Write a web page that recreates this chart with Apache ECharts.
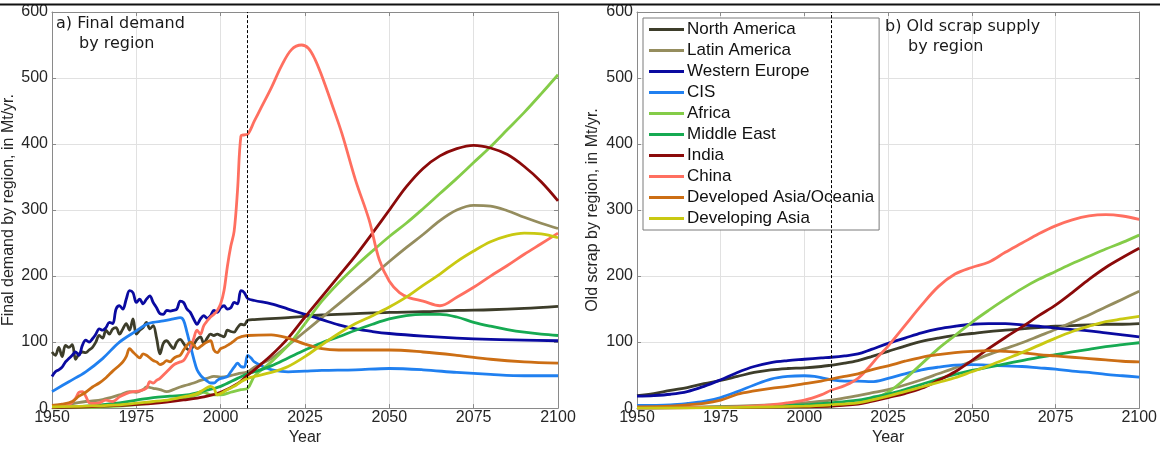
<!DOCTYPE html>
<html>
<head>
<meta charset="utf-8">
<script src="https://cdn.jsdelivr.net/npm/echarts@6/dist/echarts.min.js"></script>
<style>
html,body{margin:0;padding:0;background:#fff;}
#chart{width:1160px;height:451px;}
</style>
</head>
<body>
<div id="chart"></div>
<script>
// ---------- Data ----------
const regionNames = ['North America','Latin America','Western Europe','CIS','Africa','Middle East','India','China','Developed Asia/Oceania','Developing Asia'];
const regionColors = ['#3d3d2a','#958d5e','#0a0aa0','#2080f0','#84cc48','#16aa52','#8b0a0a','#ff6f60','#cc6e14','#c9c912'];
const xTicks = [1950,1975,2000,2025,2050,2075,2100];
const yTicks = [0,100,200,300,400,500,600];
const markerYear = 2008;

// a) Final demand by region, Mt/yr  ([year, value])
const demandNorthAmerica = [[1950,85],[1951,80],[1952,92],[1953,78],[1954,95],[1955,92],[1956,96],[1957,74],[1958,82],[1959,85],[1960,84],[1961,88],[1962,92],[1963,100],[1964,110],[1965,106],[1966,118],[1967,112],[1968,120],[1969,122],[1970,112],[1971,120],[1972,128],[1973,118],[1974,135],[1975,112],[1976,118],[1977,122],[1978,130],[1979,120],[1980,125],[1981,106],[1982,82],[1983,98],[1984,102],[1985,96],[1986,90],[1987,100],[1988,104],[1989,98],[1990,90],[1991,88],[1992,96],[1993,104],[1994,108],[1995,98],[1996,106],[1997,112],[1998,110],[1999,112],[2000,110],[2001,108],[2002,118],[2003,116],[2004,115],[2005,122],[2006,127],[2007,126],[2008,133],[2010,134],[2020,137],[2030,141],[2040,143],[2050,145],[2060,146],[2070,148],[2080,149],[2090,151],[2100,154]];
const demandLatinAmerica = [[1950,4],[1955,6],[1960,10],[1965,13],[1970,20],[1973,25],[1975,24],[1977,28],[1978,32],[1980,30],[1982,28],[1984,25],[1986,28],[1988,32],[1990,35],[1992,38],[1994,42],[1996,45],[1998,48],[2000,47],[2002,48],[2005,52],[2008,55],[2010,62],[2015,75],[2020,95],[2025,116],[2030,137],[2035,158],[2040,179],[2045,200],[2050,222],[2055,243],[2060,263],[2065,284],[2070,300],[2075,307],[2080,306],[2085,299],[2090,289],[2095,280],[2100,272]];
const demandWesternEurope = [[1950,48],[1951,55],[1952,58],[1953,62],[1954,70],[1955,75],[1956,80],[1957,85],[1958,80],[1959,95],[1960,103],[1961,100],[1962,105],[1963,112],[1964,120],[1965,118],[1966,122],[1967,130],[1968,128],[1969,150],[1970,155],[1971,150],[1972,165],[1973,178],[1974,175],[1975,160],[1976,165],[1977,158],[1978,165],[1979,170],[1980,160],[1981,152],[1982,143],[1983,142],[1984,148],[1985,147],[1986,148],[1987,150],[1988,162],[1989,160],[1990,150],[1991,145],[1992,135],[1993,127],[1994,135],[1995,140],[1996,136],[1997,140],[1998,148],[1999,145],[2000,152],[2001,155],[2002,150],[2003,152],[2004,160],[2005,158],[2006,178],[2007,175],[2008,166],[2010,163],[2015,158],[2020,150],[2025,142],[2030,134],[2035,126],[2040,120],[2045,116],[2050,113],[2060,109],[2070,106],[2080,104],[2090,103],[2100,102]];
const demandCIS = [[1950,25],[1955,40],[1960,55],[1965,75],[1970,100],[1975,117],[1978,127],[1980,130],[1983,132],[1986,135],[1988,137],[1989,133],[1990,115],[1991,95],[1992,75],[1993,58],[1994,50],[1995,45],[1996,41],[1997,38],[1998,38],[1999,42],[2000,45],[2001,46],[2002,48],[2003,55],[2004,62],[2005,68],[2006,63],[2007,62],[2008,80],[2009,76],[2010,70],[2013,62],[2016,57],[2020,55],[2025,56],[2030,57],[2040,58],[2050,60],[2060,58],[2070,54],[2080,51],[2090,49],[2100,49]];
const demandAfrica = [[1950,0],[1960,1],[1970,3],[1980,8],[1985,12],[1990,16],[1993,20],[1995,24],[1997,20],[2000,20],[2003,24],[2006,28],[2008,30],[2010,48],[2015,70],[2020,95],[2025,128],[2030,162],[2035,190],[2040,215],[2045,238],[2050,260],[2055,280],[2060,302],[2065,325],[2070,348],[2075,372],[2080,396],[2085,422],[2090,448],[2095,476],[2100,505]];
const demandMiddleEast = [[1950,1],[1960,3],[1970,8],[1975,12],[1980,16],[1985,18],[1990,20],[1995,26],[2000,33],[2005,45],[2008,52],[2010,55],[2015,64],[2020,76],[2025,88],[2030,99],[2035,108],[2040,118],[2045,127],[2050,135],[2055,140],[2060,142],[2065,142],[2070,138],[2075,130],[2080,124],[2085,119],[2090,115],[2095,112],[2100,110]];
const demandIndia = [[1950,1],[1960,2],[1970,4],[1980,7],[1990,13],[1995,17],[2000,24],[2005,37],[2008,50],[2010,58],[2015,80],[2020,106],[2025,138],[2030,169],[2035,200],[2040,231],[2045,265],[2050,300],[2055,335],[2060,363],[2065,382],[2070,393],[2075,398],[2080,394],[2085,384],[2090,366],[2095,343],[2100,314]];
const demandChina = [[1950,2],[1953,3],[1955,5],[1957,15],[1958,24],[1959,25],[1960,18],[1961,8],[1962,7],[1964,8],[1966,12],[1968,10],[1970,17],[1972,22],[1974,25],[1976,26],[1978,30],[1979,40],[1980,38],[1981,42],[1982,45],[1984,55],[1986,65],[1987,68],[1988,70],[1989,72],[1990,80],[1991,90],[1992,105],[1993,118],[1994,112],[1995,125],[1996,132],[1997,138],[1998,142],[1999,148],[2000,158],[2001,178],[2002,215],[2003,245],[2004,268],[2005,330],[2006,412],[2007,414],[2008,415],[2010,435],[2012,455],[2015,485],[2018,518],[2021,543],[2024,550],[2026,545],[2028,528],[2030,503],[2033,460],[2036,415],[2040,345],[2044,285],[2047,225],[2050,192],[2053,175],[2056,167],[2060,162],[2065,155],[2070,168],[2075,183],[2080,200],[2085,216],[2090,233],[2095,249],[2100,265]];
const demandDevelopedAsia = [[1950,4],[1953,6],[1956,10],[1958,18],[1960,24],[1962,32],[1964,38],[1966,46],[1968,56],[1970,65],[1971,70],[1972,78],[1973,90],[1974,85],[1975,80],[1976,76],[1977,82],[1978,80],[1979,76],[1980,72],[1981,70],[1982,66],[1983,68],[1984,72],[1985,70],[1986,75],[1987,78],[1988,80],[1989,88],[1990,95],[1991,100],[1992,96],[1993,90],[1994,93],[1995,97],[1996,100],[1997,102],[1998,88],[1999,84],[2000,90],[2001,92],[2002,95],[2003,98],[2004,102],[2005,106],[2006,108],[2008,110],[2015,111],[2020,106],[2025,97],[2030,90],[2035,88],[2040,88],[2050,88],[2060,85],[2070,80],[2080,74],[2090,70],[2100,68]];
const demandDevelopingAsia = [[1950,2],[1960,3],[1970,5],[1980,10],[1985,13],[1990,18],[1993,22],[1995,28],[1997,33],[1998,30],[1999,20],[2000,22],[2002,28],[2004,33],[2006,40],[2008,45],[2010,48],[2015,54],[2020,63],[2025,78],[2030,96],[2035,113],[2040,128],[2045,140],[2050,153],[2055,168],[2060,186],[2065,203],[2070,222],[2075,238],[2080,252],[2085,261],[2090,265],[2095,264],[2100,258]];

// b) Old scrap supply by region, Mt/yr  ([year, value])
const scrapNorthAmerica = [[1950,19],[1955,22],[1960,27],[1965,31],[1970,37],[1975,42],[1980,48],[1985,54],[1990,58],[1995,60],[2000,61],[2005,63],[2008,65],[2012,68],[2016,72],[2020,78],[2025,86],[2030,94],[2035,101],[2040,106],[2045,110],[2050,113],[2055,116],[2060,118],[2065,120],[2070,122],[2075,124],[2080,125],[2085,126],[2090,127],[2095,127],[2100,128]];
const scrapLatinAmerica = [[1950,1],[1970,2],[1990,5],[2000,8],[2008,12],[2016,19],[2020,23],[2025,28],[2030,35],[2035,43],[2040,52],[2045,61],[2050,71],[2055,81],[2060,90],[2065,99],[2070,109],[2075,119],[2080,130],[2085,141],[2090,153],[2095,165],[2100,177]];
const scrapWesternEurope = [[1950,18],[1955,19],[1960,21],[1965,25],[1970,33],[1975,43],[1980,54],[1985,63],[1990,69],[1995,72],[2000,74],[2005,76],[2008,77],[2012,79],[2016,82],[2020,89],[2025,98],[2030,106],[2035,114],[2040,120],[2045,124],[2050,127],[2055,128],[2060,128],[2065,126],[2070,124],[2075,121],[2080,119],[2085,117],[2090,114],[2095,111],[2100,108]];
const scrapCIS = [[1950,4],[1960,5],[1965,7],[1970,10],[1975,16],[1980,25],[1985,35],[1990,44],[1995,48],[2000,49],[2003,48],[2006,45],[2008,43],[2012,41],[2016,41],[2020,40],[2025,45],[2030,52],[2035,58],[2040,62],[2045,65],[2050,66],[2055,65],[2060,64],[2065,63],[2070,61],[2075,59],[2080,56],[2085,54],[2090,51],[2095,49],[2100,47]];
const scrapAfrica = [[1950,0],[1980,1],[2000,2],[2008,3],[2015,7],[2020,13],[2025,24],[2030,44],[2035,67],[2040,90],[2045,110],[2050,130],[2055,148],[2060,165],[2065,181],[2070,195],[2075,207],[2080,219],[2085,230],[2090,241],[2095,251],[2100,262]];
const scrapMiddleEast = [[1950,0],[1980,2],[2000,5],[2008,8],[2016,12],[2020,16],[2025,21],[2030,28],[2035,36],[2040,44],[2045,51],[2050,57],[2055,62],[2060,67],[2065,72],[2070,77],[2075,81],[2080,85],[2085,89],[2090,93],[2095,96],[2100,99]];
const scrapIndia = [[1950,0],[1980,1],[2000,2],[2008,3],[2016,6],[2020,10],[2025,16],[2030,22],[2035,30],[2040,42],[2045,55],[2050,72],[2055,90],[2060,107],[2065,123],[2070,140],[2075,156],[2080,175],[2085,195],[2090,213],[2095,228],[2100,242]];
const scrapChina = [[1950,0],[1970,1],[1980,2],[1990,5],[1995,8],[2000,12],[2005,20],[2008,27],[2012,34],[2016,45],[2020,66],[2022,78],[2025,94],[2030,125],[2035,156],[2040,184],[2045,203],[2050,213],[2055,221],[2060,236],[2065,250],[2070,264],[2075,276],[2080,285],[2085,291],[2090,293],[2095,291],[2100,286]];
const scrapDevelopedAsia = [[1950,2],[1960,3],[1965,5],[1970,7],[1975,12],[1980,21],[1985,26],[1990,30],[1995,33],[2000,37],[2005,41],[2008,44],[2012,48],[2016,52],[2020,58],[2025,64],[2030,71],[2035,77],[2040,81],[2045,84],[2050,86],[2055,87],[2060,86],[2065,84],[2070,81],[2075,79],[2080,77],[2085,75],[2090,73],[2095,71],[2100,70]];
const scrapDevelopingAsia = [[1950,0],[1980,1],[2000,3],[2008,5],[2016,8],[2020,12],[2025,18],[2030,25],[2035,32],[2040,39],[2045,46],[2050,55],[2055,64],[2060,74],[2065,84],[2070,95],[2075,106],[2080,116],[2085,124],[2090,131],[2095,135],[2100,139]];

const demandSeries = [demandNorthAmerica,demandLatinAmerica,demandWesternEurope,demandCIS,demandAfrica,demandMiddleEast,demandIndia,demandChina,demandDevelopedAsia,demandDevelopingAsia];
const scrapSeries = [scrapNorthAmerica,scrapLatinAmerica,scrapWesternEurope,scrapCIS,scrapAfrica,scrapMiddleEast,scrapIndia,scrapChina,scrapDevelopedAsia,scrapDevelopingAsia];

// ---------- Chart ----------
const chart = echarts.init(document.getElementById('chart'), null, {renderer:'canvas'});
const FONT = "'Liberation Sans', Arial, sans-serif";
const TXT = '#262626';
const AXC = '#8a8a8a';
const GRIDC = '#e1e1e1';

function mainX(gi, name){
  return {type:'value', gridIndex:gi, min:1950, max:2100, interval:25,
    name:name, nameLocation:'middle', nameGap:20,
    nameTextStyle:{fontFamily:FONT, fontSize:16, color:TXT},
    axisLine:{show:true, onZero:false, lineStyle:{color:AXC, width:1}},
    axisTick:{show:true, inside:true, length:4, lineStyle:{color:AXC}},
    axisLabel:{fontFamily:FONT, fontSize:16, color:TXT, margin:1, formatter:(v)=>String(v)},
    splitLine:{show:true, lineStyle:{color:GRIDC, width:1}}};
}
function mainY(gi, name, gap){
  return {type:'value', gridIndex:gi, min:0, max:600, interval:100,
    name:name, nameLocation:'middle', nameGap:gap, nameRotate:90,
    nameTextStyle:{fontFamily:FONT, fontSize:16, color:TXT},
    axisLine:{show:true, onZero:false, lineStyle:{color:AXC, width:1}},
    axisTick:{show:true, inside:true, length:4, lineStyle:{color:AXC}},
    axisLabel:{fontFamily:FONT, fontSize:16, color:TXT, margin:4, formatter:(v)=>String(v)},
    splitLine:{show:true, lineStyle:{color:GRIDC, width:1}}};
}
function frameX(gi){
  return {type:'value', gridIndex:gi, position:'top', min:1950, max:2100, interval:25,
    axisLine:{show:true, onZero:false, lineStyle:{color:AXC, width:1}},
    axisTick:{show:true, inside:true, length:4, lineStyle:{color:AXC}},
    axisLabel:{show:false}, splitLine:{show:false}};
}
function frameY(gi){
  return {type:'value', gridIndex:gi, position:'right', min:0, max:600, interval:100,
    axisLine:{show:true, onZero:false, lineStyle:{color:AXC, width:1}},
    axisTick:{show:true, inside:true, length:4, lineStyle:{color:AXC}},
    axisLabel:{show:false}, splitLine:{show:false}};
}

const series = [];
function addPanel(list, axisIdx){
  list.forEach((data, i) => {
    const s = {name:regionNames[i], type:'line', xAxisIndex:axisIdx, yAxisIndex:axisIdx,
      data:data, showSymbol:false, symbol:'none', smooth:0.35,
      lineStyle:{color:regionColors[i], width:2.8}, itemStyle:{color:regionColors[i]},
      z:2, animation:false};
    if (i === 0) {
      s.markLine = {silent:true, symbol:['none','none'], animation:false,
        label:{show:false},
        lineStyle:{type:[3,2], color:'#000', width:1},
        data:[{xAxis:markerYear}]};
    }
    series.push(s);
  });
}
addPanel(demandSeries, 0);
addPanel(scrapSeries, 1);

const titleStyle = {fontFamily:"'DejaVu Sans', Verdana, sans-serif", fontSize:16, fontWeight:'normal', color:'#1a1a1a'};

chart.setOption({
  animation:false,
  backgroundColor:'#ffffff',
  title:[
    {text:'a) Final demand', left:56, top:16, padding:0, textStyle:titleStyle},
    {text:'by region', left:79, top:36, padding:0, textStyle:titleStyle},
    {text:'b) Old scrap supply', left:885, top:19, padding:0, textStyle:titleStyle},
    {text:'by region', left:908, top:39, padding:0, textStyle:titleStyle}
  ],
  grid:[
    {left:52, top:12, width:506, height:399.5, containLabel:false},
    {left:637, top:12, width:507, height:399, containLabel:false}
  ],
  xAxis:[mainX(0,'Year'), mainX(1,'Year'), frameX(0), frameX(1)],
  yAxis:[mainY(0,'Final demand by region, in Mt/yr.',35), mainY(1,'Old scrap by region, in Mt/yr.',36), frameY(0), frameY(1)],
  legend:{
    data:regionNames, orient:'vertical', left:643, top:18,
    icon:'rect', itemWidth:35, itemHeight:3, itemGap:4,
    padding:[3,5,3,6],
    backgroundColor:'#ffffff', borderColor:'#7a7a7a', borderWidth:1, borderRadius:0,
    selectedMode:false,
    textStyle:{fontFamily:FONT, fontSize:17, color:'#111', padding:[0,0,0,-2]}
  },
  graphic:[
    {type:'line', silent:true, z:100, shape:{x1:0, y1:4.5, x2:1160, y2:4.5}, style:{stroke:'#111', lineWidth:2}}
  ],
  series:series
});
</script>
</body>
</html>
